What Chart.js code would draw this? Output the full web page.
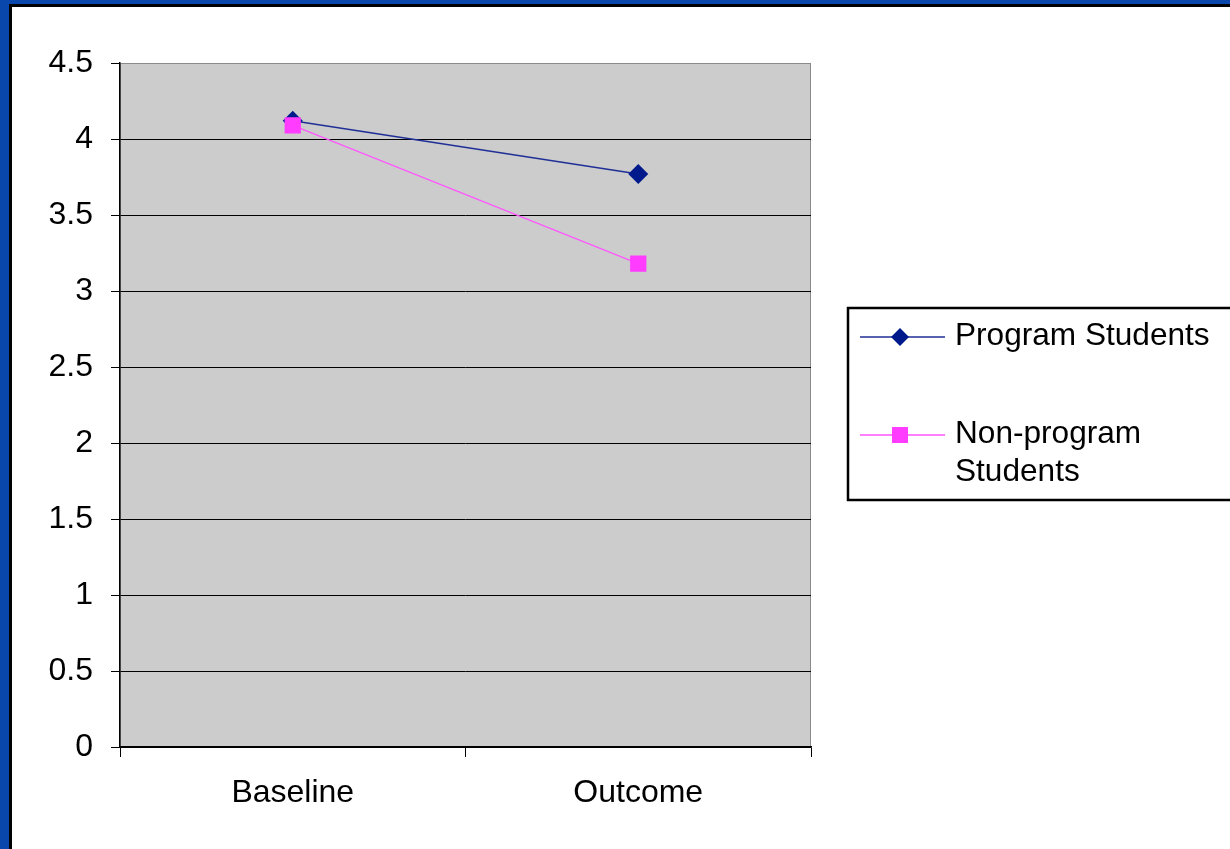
<!DOCTYPE html>
<html>
<head>
<meta charset="utf-8">
<script src="https://cdn.jsdelivr.net/npm/chart.js@4/dist/chart.umd.min.js"></script>
<style>
  html, body { margin: 0; padding: 0; background: #ffffff; }
  #wrap { position: relative; width: 1230px; height: 849px; }
  canvas { display: block; }
</style>
</head>
<body>
<div id="wrap"><canvas id="c" width="1230" height="849"></canvas></div>
<script>
// Survey scores at two time points
const categories = ['Baseline', 'Outcome'];
const seriesNames = ['Program Students', 'Non-program Students'];
const programValues = [4.12, 3.77];
const nonProgramValues = [4.09, 3.18];
const yTicks = [0, 0.5, 1, 1.5, 2, 2.5, 3, 3.5, 4, 4.5];

const FONT = '"Liberation Sans", Arial, sans-serif';
const NAVY = '#001a8c';
const PINK = '#ff3cff';

// Slide frame, grey plot background and plot border
const framePlugin = {
  id: 'frame',
  beforeDraw(chart) {
    const ctx = chart.ctx;
    const a = chart.chartArea;
    ctx.save();
    ctx.fillStyle = '#ffffff';
    ctx.fillRect(0, 0, chart.width, chart.height);
    // blue frame with a dark inner edge
    ctx.fillStyle = '#0a47ad';
    ctx.fillRect(0, 0, chart.width, 4);
    ctx.fillRect(0, 0, 9, chart.height);
    ctx.fillStyle = '#000000';
    ctx.fillRect(9, 4, chart.width - 9, 3);
    ctx.fillRect(9, 4, 3, chart.height - 4);
    // plot area
    ctx.fillStyle = '#cccccc';
    ctx.fillRect(a.left, a.top, a.right - a.left, a.bottom - a.top);
    ctx.strokeStyle = '#8a8a8a';
    ctx.lineWidth = 1;
    ctx.strokeRect(a.left + 0.5, a.top + 0.5, a.right - a.left - 1, a.bottom - a.top);
    ctx.restore();
  }
};

// Boxed legend to the right of the plot, labels wrapped to the box width
const boxLegendPlugin = {
  id: 'boxLegend',
  afterDraw(chart) {
    const ctx = chart.ctx;
    const box = { x: 848, y: 308, w: 400, h: 192 };
    const rows = [333, 431];
    const lineH = 38;
    const textX = 955;
    const maxW = 272;
    ctx.save();
    ctx.strokeStyle = '#000000';
    ctx.lineWidth = 2.5;
    ctx.strokeRect(box.x, box.y, box.w, box.h);
    ctx.font = '31.6px ' + FONT;
    ctx.textBaseline = 'middle';
    ctx.textAlign = 'left';
    chart.data.datasets.forEach((ds, i) => {
      const y = rows[i];
      ctx.strokeStyle = ds.borderColor;
      ctx.lineWidth = 1.5;
      ctx.beginPath();
      ctx.moveTo(860, y + 4);
      ctx.lineTo(945, y + 4);
      ctx.stroke();
      ctx.fillStyle = ds.pointBackgroundColor;
      if (ds.pointStyle === 'rectRot') {
        ctx.beginPath();
        ctx.moveTo(900, y + 4 - 9);
        ctx.lineTo(909, y + 4);
        ctx.lineTo(900, y + 4 + 9);
        ctx.lineTo(891, y + 4);
        ctx.closePath();
        ctx.fill();
      } else {
        ctx.fillRect(892, y - 4, 16, 16);
      }
      // word wrap
      const words = ds.label.split(' ');
      const lines = [];
      let cur = '';
      words.forEach(w => {
        const t = cur ? cur + ' ' + w : w;
        if (ctx.measureText(t).width > maxW && cur) { lines.push(cur); cur = w; }
        else cur = t;
      });
      if (cur) lines.push(cur);
      ctx.fillStyle = '#000000';
      lines.forEach((ln, k) => ctx.fillText(ln, textX, y + 3 + k * lineH));
    });
    ctx.restore();
  }
};

new Chart(document.getElementById('c'), {
  type: 'line',
  data: {
    labels: categories,
    datasets: [
      {
        label: seriesNames[0],
        data: programValues,
        borderColor: '#1f2f96',
        borderWidth: 1.5,
        pointStyle: 'rectRot',
        pointRadius: 10,
        pointBackgroundColor: NAVY,
        pointBorderColor: NAVY,
        pointBorderWidth: 0,
        order: 1
      },
      {
        label: seriesNames[1],
        data: nonProgramValues,
        borderColor: '#ff55ff',
        borderWidth: 1.2,
        pointStyle: 'rect',
        pointRadius: 11.5,
        pointBackgroundColor: PINK,
        pointBorderColor: PINK,
        pointBorderWidth: 0,
        order: 0
      }
    ]
  },
  options: {
    responsive: false,
    animation: false,
    devicePixelRatio: 1,
    layout: { padding: { top: 63, right: 419, bottom: 0, left: 0 } },
    plugins: { legend: { display: false }, tooltip: { enabled: false } },
    elements: { line: { tension: 0 } },
    scales: {
      x: {
        offset: true,
        afterFit(scale) { scale.height = 102; },
        grid: {
          offset: true,
          drawOnChartArea: false,
          drawTicks: true,
          tickLength: 10,
          tickColor: '#000000'
        },
        border: { display: true, color: '#000000', width: 1.5 },
        ticks: {
          color: '#000000',
          padding: 17,
          font: { family: FONT, size: 32 }
        }
      },
      y: {
        min: 0,
        max: 4.5,
        afterFit(scale) { scale.width = 120; },
        afterBuildTicks(scale) { scale.ticks = yTicks.map(v => ({ value: v })); },
        grid: {
          color: ctx => (ctx.tick && ctx.tick.value === 4.5) ? 'rgba(0,0,0,0)' : '#000000',
          lineWidth: 1,
          tickLength: 9,
          tickColor: '#000000'
        },
        border: { display: true, color: '#000000', width: 1.5 },
        ticks: {
          color: '#000000',
          padding: 18,
          font: { family: FONT, size: 32 },
          callback: v => String(v)
        }
      }
    }
  },
  plugins: [framePlugin, boxLegendPlugin]
});
</script>
</body>
</html>
